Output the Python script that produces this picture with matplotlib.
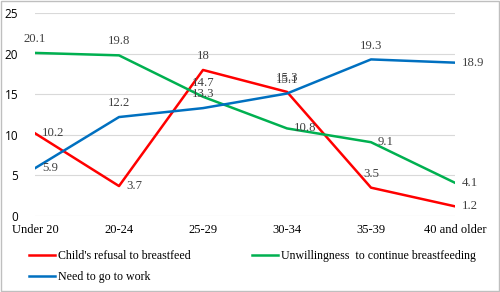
import matplotlib.pyplot as plt
from matplotlib.patches import Rectangle

categories = ["Under 20", "20-24", "25-29", "30-34", "35-39", "40 and older"]
refusal = [10.2, 3.7, 18, 15.3, 3.5, 1.2]
unwilling = [20.1, 19.8, 14.7, 10.8, 9.1, 4.1]
work = [5.9, 12.2, 13.3, 15.1, 19.3, 18.9]
yticks = [0, 5, 10, 15, 20, 25]

# where each data label sits: "a" = above the point, "r" = right of it
refusal_pos = ["r", "r", "a", "a", "a", "r"]
unwilling_pos = ["a", "a", "a", "r", "r", "r"]
work_pos = ["r", "a", "a", "a", "a", "r"]

fig = plt.figure(figsize=(5, 2.92), dpi=100)
ax = fig.add_axes([0.07, 0.26, 0.84, 0.695])

x = list(range(len(categories)))
series = [
    (refusal, "#ff0000", "Child's refusal to breastfeed", refusal_pos),
    (unwilling, "#00b050", "Unwillingness  to continue breastfeeding", unwilling_pos),
    (work, "#0070c0", "Need to go to work", work_pos),
]
handles = []
for vals, col, lab, pos in series:
    h, = ax.plot(x, vals, color=col, lw=1.8, label=lab, zorder=3)
    handles.append(h)
    for xi, v, p in zip(x, vals, pos):
        if p == "a":
            off, ha = (0, 10), "center"
        else:
            off, ha = (5, 0), "left"
        ax.annotate(f"{v:g}", (xi, v), xytext=off, textcoords="offset points",
                    ha=ha, va="center", fontsize=9.2,
                    family="Liberation Serif", color="#404040", zorder=4)

ax.set_xlim(0, 5)
ax.set_ylim(0, 25)
ax.set_yticks(yticks)
ax.set_xticks(x)
ax.set_xticklabels(categories, family="Liberation Serif", fontsize=9)
for t in ax.get_yticklabels():
    t.set_family("Open Sans")
    t.set_fontsize(8.5)
ax.grid(axis="y", color="#d9d9d9", lw=0.8)
ax.set_axisbelow(True)
ax.tick_params(length=0, pad=6, colors="#000000")
ax.tick_params(axis="y", pad=12)
for s in ax.spines.values():
    s.set_visible(False)

leg_kw = dict(frameon=False, prop={"family": "Liberation Serif", "size": 8.6},
              handlelength=2.2, handletextpad=0.25, labelspacing=0.75,
              borderaxespad=0, borderpad=0, loc="center left")
fig.legend(handles=[handles[0], handles[2]], bbox_to_anchor=(0.058, 0.086), **leg_kw)
fig.legend(handles=[handles[1]], bbox_to_anchor=(0.504, 0.123), **leg_kw)

fig.patches.append(Rectangle((0.002, 0.003), 0.996, 0.994, transform=fig.transFigure,
                             fill=False, edgecolor="#bfbfbf", lw=1))

fig.savefig("out.png", dpi=100)
